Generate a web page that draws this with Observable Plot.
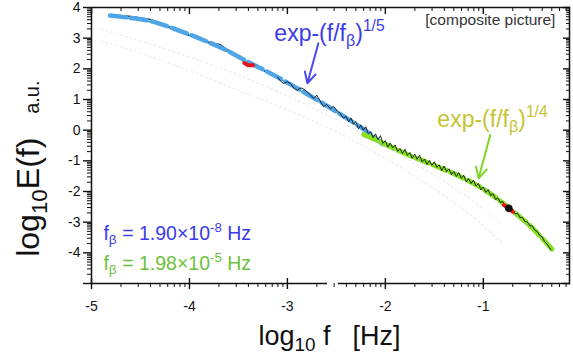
<!DOCTYPE html>
<html><head><meta charset="utf-8">
<script src="https://cdn.jsdelivr.net/npm/d3@7"></script>
<script src="https://cdn.jsdelivr.net/npm/@observablehq/plot@0.6"></script>
<style>
html,body{margin:0;padding:0;background:#fff;}
#chart svg text{white-space:pre;}
</style></head>
<body><div id="chart"></div>
<script>
// ---- measured spectrum (log10 f, log10 E) ----
const logF = [-4.81,-4.70,-4.60,-4.50,-4.40,-4.30,-4.20,-4.12,-4.05,-3.95,
  -3.85,-3.78,-3.73,-3.68,-3.63,-3.55,-3.48,-3.46,-3.43,-3.40,
  -3.36,-3.30,-3.20,-3.10,-3.07,-3.04,-3.00,-2.97,-2.93,-2.90,
  -2.86,-2.83,-2.78,-2.73,-2.70,-2.67,-2.63,-2.60,-2.56,-2.53,
  -2.49,-2.46,-2.43,
  -2.400,-2.375,-2.350,-2.325,-2.300,-2.275,-2.250,-2.225,-2.200,-2.175,
  -2.150,-2.125,-2.100,-2.075,-2.050,-2.025,-2.000,-1.975,-1.950,-1.925,
  -1.900,-1.875,-1.850,-1.825,-1.800,-1.775,-1.750,-1.725,-1.700,-1.675,
  -1.650,-1.625,-1.600,-1.575,-1.550,-1.525,-1.500,-1.475,-1.450,-1.425,
  -1.400,-1.375,-1.350,-1.325,-1.300,-1.275,-1.250,-1.225,-1.200,-1.175,
  -1.150,-1.125,-1.100,-1.075,-1.050,-1.025,-1.000,-0.975,-0.950,-0.925,
  -0.900,-0.875,-0.850,-0.825,-0.800,-0.775,-0.750,-0.725,-0.700,-0.675,
  -0.650,-0.625,-0.600,-0.575,-0.550,-0.525,-0.500,-0.475,-0.450,-0.425,
  -0.400,-0.375,-0.350,-0.325,-0.310];
const logE = [3.76,3.74,3.71,3.66,3.61,3.50,3.36,3.22,3.14,3.04,
  2.93,2.84,2.82,2.78,2.66,2.50,2.36,2.28,2.16,2.12,
  2.12,2.02,1.88,1.73,1.60,1.52,1.58,1.52,1.36,1.30,
  1.38,1.33,1.20,1.03,1.14,0.98,0.76,0.84,0.70,0.78,
  0.62,0.55,0.39,
  0.45,0.27,0.40,0.19,0.28,0.05,0.17,0.00,0.11,-0.12,
  -0.05,-0.24,-0.12,-0.31,-0.18,-0.43,-0.34,-0.55,-0.42,-0.58,
  -0.48,-0.69,-0.60,-0.76,-0.62,-0.82,-0.73,-0.92,-0.78,-0.95,
  -0.82,-1.03,-0.94,-1.12,-0.99,-1.15,-1.03,-1.21,-1.13,-1.32,
  -1.17,-1.35,-1.26,-1.45,-1.35,-1.51,-1.38,-1.57,-1.47,-1.69,
  -1.58,-1.74,-1.63,-1.82,-1.74,-1.94,-1.85,-2.03,-1.94,-2.13,
  -2.07,-2.26,-2.21,-2.36,-2.33,-2.49,-2.44,-2.60,-2.57,-2.73,
  -2.71,-2.85,-2.84,-2.98,-2.99,-3.12,-3.12,-3.26,-3.30,-3.43,
  -3.48,-3.63,-3.71,-3.83,-3.90];

// ---- fits ----
const fit5F = [-4.81,-4.6,-4.4,-4.2,-4.0,-3.8,-3.6,-3.4,-3.2,-3.0,-2.8,-2.6,-2.4,-2.2,-2.03];
const fit5E = [3.74,3.66,3.56,3.36,3.12,2.86,2.57,2.22,1.90,1.55,1.18,0.80,0.40,-0.02,-0.45];
const fit4F = [-2.22,-2.0,-1.8,-1.6,-1.4,-1.2,-1.0,-0.8,-0.6,-0.45,-0.30];
const fit4E = [-0.14,-0.46,-0.76,-1.02,-1.28,-1.57,-1.92,-2.38,-2.90,-3.35,-3.88];
const modelF = [-4.81,-4.4,-4.0,-3.6,-3.2,-2.8,-2.4,-2.0,-1.6,-1.2,-0.8,-0.6,-0.45,-0.30];
const modelE = [3.72,3.53,3.10,2.55,1.88,1.16,0.38,-0.42,-1.01,-1.58,-2.41,-2.95,-3.40,-3.93];

// ---- faint background curves of the composite ----
const ghostF = [-4.9,-4.3,-3.5,-2.6,-1.8,-1.2,-0.8];
const ghost1E = [3.3,2.7,1.8,0.5,-0.9,-2.1,-3.1];
const ghost2E = [2.9,2.3,1.3,0.1,-1.3,-2.6,-3.7];

// ---- highlighted points ----
const red1F = [-3.44,-3.40,-3.35], red1E = [2.19,2.12,2.12];
const red2F = [-0.79,-0.70], red2E = [-2.44,-2.66];
const dotF = [-0.74], dotE = [-2.55];

// ---- axes ----
const xMajor = [-5,-4,-3,-2,-1];
const yMajor = [4,3,2,1,0,-1,-2,-3,-4,-5];
const decadeOffsets = [0.301,0.477,0.602,0.699,0.778,0.845,0.903,0.954];
const axisGap = [-2.59,-2.48];
const smoothEnd = -3.15; // smooth low-frequency part of the spectrum ends here

const zip = (a, b) => a.map((x, i) => ({x, y: b[i]}));
const spectrum = zip(logF, logE);
const xMinor = xMajor.flatMap(n => decadeOffsets.map(o => n + o)).filter(v => v < -0.12);
const yMinor = yMajor.slice(1).flatMap(n => decadeOffsets.map(o => n + o));

const font = "'Liberation Sans', Arial, Helvetica, sans-serif";
const blueText = "#3b3bea", oliveText = "#c4c431", greenText = "#6cc23a";

// annotation texts with rich parts (shift in em, scale of size)
const notes = [
  {x:-3.133, y:2.894, size:23, fill:blueText, parts:[{t:"exp-(f/f"},{t:"β",shift:0.2,scale:0.7},{t:")"},{t:"1/5",shift:-0.45,scale:0.68}]},
  {x:-1.469, y:0.098, size:23, fill:oliveText, parts:[{t:"exp-(f/f"},{t:"β",shift:0.2,scale:0.7},{t:")"},{t:"1/4",shift:-0.45,scale:0.68}]},
  {x:-1.592, y:3.415, size:15.5, fill:"#333", parts:[{t:"[composite picture]"}]},
  {x:-4.878, y:-3.577, size:19.5, fill:blueText, parts:[{t:"f"},{t:"β",shift:0.2,scale:0.7},{t:" = 1.90×10"},{t:"-8",shift:-0.42,scale:0.68},{t:" Hz"}]},
  {x:-4.878, y:-4.553, size:19.5, fill:greenText, parts:[{t:"f"},{t:"β",shift:0.2,scale:0.7},{t:" = 1.98×10"},{t:"-5",shift:-0.42,scale:0.68},{t:" Hz"}]},
  {x:-3.296, y:-6.99, size:27, fill:"#111", parts:[{t:"log"},{t:"10",shift:0.25,scale:0.7},{t:" f"},{t:"[Hz]",dx:22}]},
  {x:-5.541, y:-4.13, size:32, fill:"#111", rotate:-90, parts:[{t:"log"},{t:"10",shift:0.25,scale:0.7},{t:"E(f)"},{t:"a.u.",scale:0.62,dx:24}]}
];
notes.forEach(n => n.key = n.parts.map(p => p.t).join(""));

const arrows = [
  {x1:-2.684, y1:2.83, x2:-2.796, y2:1.53, stroke:"#4b4bf0"},
  {x1:-0.929, y1:-0.16, x2:-1.048, y2:-1.57, stroke:"#7fd42a"}
];

const chart = Plot.plot({
  width: 573, height: 360,
  marginLeft: 91, marginRight: 4, marginTop: 7, marginBottom: 77,
  x: {domain: [-5, -0.12]},
  y: {domain: [-5, 4]},
  style: {fontFamily: font, fontSize: "14px", background: "white", color: "#111", overflow: "visible"},
  marks: [
    Plot.line(zip(ghostF, ghost1E), {x:"x", y:"y", stroke:"#eaf0f6", strokeWidth:1.3, strokeDasharray:"2,3", curve:"natural"}),
    Plot.line(zip(ghostF, ghost2E), {x:"x", y:"y", stroke:"#eaf0f6", strokeWidth:1.3, strokeDasharray:"2,3", curve:"natural"}),
    Plot.line(zip(modelF, modelE), {x:"x", y:"y", stroke:"#2f8f4f", strokeWidth:1.2, curve:"natural"}),
    Plot.line(spectrum.filter(d => d.x <= smoothEnd + 0.06), {x:"x", y:"y", stroke:"#111", strokeWidth:1.2}),
    Plot.line(zip(fit5F, fit5E), {x:"x", y:"y", stroke:"#4ea5ea", strokeWidth:4.5, strokeDasharray:"16,5", curve:"natural"}),
    Plot.line(zip(fit4F, fit4E), {x:"x", y:"y", stroke:"#86e01e", strokeWidth:5, strokeDasharray:"14,5", curve:"natural"}),
    Plot.line(spectrum.filter(d => d.x >= smoothEnd), {x:"x", y:"y", stroke:"#111", strokeWidth:0.9}),
    Plot.line(zip(red1F, red1E), {x:"x", y:"y", stroke:"#e8141c", strokeWidth:4}),
    Plot.line(zip(red2F, red2E), {x:"x", y:"y", stroke:"#e8141c", strokeWidth:4}),
    Plot.dot(zip(dotF, dotE), {x:"x", y:"y", r:3.8, fill:"#111"}),
    Plot.arrow(arrows, {x1:"x1", y1:"y1", x2:"x2", y2:"y2", stroke:"stroke", strokeWidth:2, headLength:9, headAngle:55}),
    ...notes.map(n => Plot.text([n], {x:"x", y:"y", text:"key", textAnchor:"start", lineAnchor:"bottom", fontSize:n.size, fill:n.fill, rotate:n.rotate || 0})),
    Plot.frame({stroke:"#111", strokeWidth:1.5}),
    Plot.ruleY([-5], {x1: axisGap[0], x2: axisGap[1], stroke:"white", strokeWidth:5}),
    Plot.axisX(xMajor, {anchor:"bottom", tickSize:6, tickPadding:12, tickFormat:d => String(d), fontSize:14, label:null, strokeWidth:1.4}),
    Plot.axisX(xMajor, {anchor:"bottom", tickSize:-5, tickFormat:() => "", label:null, strokeWidth:1.4}),
    Plot.axisX(xMinor, {anchor:"bottom", tickSize:4, tickFormat:() => "", label:null}),
    Plot.axisX(xMajor, {anchor:"top", tickSize:-6, tickFormat:() => "", label:null, strokeWidth:1.4}),
    Plot.axisX(xMinor, {anchor:"top", tickSize:-3, tickFormat:() => "", label:null}),
    Plot.axisY(yMajor, {anchor:"left", tickSize:8, tickPadding:3, tickFormat:d => d === -5 ? "" : String(d), fontSize:14, label:null, strokeWidth:1.4}),
    Plot.axisY(yMinor, {anchor:"left", tickSize:4, tickFormat:() => "", label:null}),
    Plot.axisY(yMajor, {anchor:"right", tickSize:-7, tickFormat:() => "", label:null, strokeWidth:1.4}),
    Plot.axisY(yMinor, {anchor:"right", tickSize:-4, tickFormat:() => "", label:null})
  ]
});

// rebuild annotation texts with sub/superscripts
const NS = "http://www.w3.org/2000/svg";
chart.querySelectorAll("text").forEach(el => {
  const n = notes.find(d => d.key === el.textContent);
  if (!n) return;
  while (el.firstChild) el.removeChild(el.firstChild);
  let cur = 0;
  for (const p of n.parts) {
    const t = document.createElementNS(NS, "tspan");
    const s = (p.shift || 0) * n.size;
    if (s !== cur) t.setAttribute("dy", s - cur);
    cur = s;
    if (p.scale) t.setAttribute("font-size", p.scale * n.size);
    if (p.dx) t.setAttribute("dx", p.dx);
    t.textContent = p.t;
    el.appendChild(t);
  }
});

document.getElementById("chart").appendChild(chart);
</script>
</body></html>
